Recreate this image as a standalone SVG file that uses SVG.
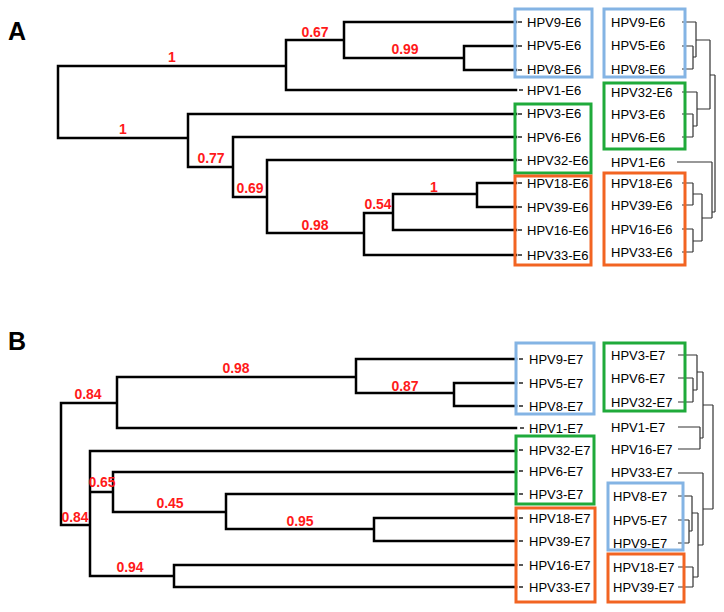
<svg xmlns="http://www.w3.org/2000/svg" width="724" height="612" viewBox="0 0 724 612">
<style>
.tree{fill:none;stroke:#000;stroke-width:2.5;stroke-linecap:square}
.tick{fill:none;stroke:#222;stroke-width:1.5}
.thin{fill:none;stroke:#333;stroke-width:1.2}
.lbl{font-family:"Liberation Sans",Arial,sans-serif;font-size:13px;fill:#000}
.bs{font-family:"Liberation Sans",Arial,sans-serif;font-size:14px;font-weight:bold;fill:#ff1a1a;text-anchor:middle}
.panel{font-family:"Liberation Sans",Arial,sans-serif;font-size:25px;font-weight:bold;fill:#000}
.blue{fill:none;stroke:#84b4e4;stroke-width:3}
.green{fill:none;stroke:#1faa3a;stroke-width:3}
.orange{fill:none;stroke:#f26422;stroke-width:3}
</style>
<rect width="724" height="612" fill="#fff"/>
<text class="panel" x="8" y="40">A</text>
<text class="panel" x="8" y="350">B</text>

<g id="connectors">
<path class="tree" d="M58,66 V138 M58,66 H286 M286,40 V90 M286,40 H344 M344,22 V58 M344,22 H516 M344,58 H464 M464,46 V70 M464,46 H516 M464,70 H516 M286,90 H516
M58,138 H188 M188,114 V167 M188,114 H516 M188,167 H233 M233,137 V197 M233,137 H516 M233,197 H267 M267,160 V233 M267,160 H516 M267,233 H364 M364,213 V255 M364,213 H393 M393,194 V230 M393,194 H477 M477,183 V207 M477,183 H516 M477,207 H516 M393,230 H516 M364,255 H516"/>
<path class="tick" d="M518,22 H522 M518,46 H522 M518,70 H522 M519,90 H523 M518,114 H522 M518,137 H522 M518,160 H522 M518,183 H522 M518,207 H522 M518,230 H522 M518,255 H522"/>
<path class="thin" d="M682,22 H696 M682,46 H693 M682,69 H693 M693,46 V69 M693,57 H696 M696,22 V57 M696,40 H710
M682,92 H697 M682,114 H693 M682,137 H693 M693,114 V137 M693,126 H697 M697,92 V126 M697,109 H710 M710,40 V109 M710,75 H715
M677,162 H712 M682,183 H693 M682,205 H693 M693,183 V205 M693,194 H702 M682,229 H693 M682,252 H693 M693,229 V252 M693,241 H702 M702,194 V241 M702,218 H712 M712,162 V218 M712,212 H715 M715,75 V212"/>

<path class="tree" d="M61,403 V525 M61,403 H117 M117,377 V428 M117,377 H356 M356,359 V393 M356,359 H516 M356,393 H454 M454,383 V406 M454,383 H516 M454,406 H516 M117,428 H516
M61,525 H90 M90,451 V576 M90,451 H516 M90,492 H113 M113,472 V512 M113,472 H516 M113,512 H226 M226,494 V529 M226,494 H516 M226,529 H374 M374,518 V541 M374,518 H516 M374,541 H516 M90,576 H174 M174,565 V587 M174,565 H516 M174,587 H516"/>
<path class="tick" d="M519,359 H523 M519,383 H523 M519,406 H523 M520,428 H524 M519,450 H523 M519,471 H523 M519,494 H523 M519,518 H523 M519,541 H523 M519,565 H523 M519,587 H523"/>
<path class="thin" d="M678,355 H697 M678,378 H693 M678,402 H693 M693,378 V402 M693,390 H697 M697,355 V390 M697,372 H703
M678,427 H700 M678,449 H700 M700,427 V449 M700,438 H703 M703,372 V438 M703,405 H713
M678,473 H703 M678,496 H692 M678,520 H689 M678,543 H689 M689,520 V543 M689,531 H692 M692,496 V531 M692,513 H698
M678,567 H693 M678,587 H693 M693,567 V587 M693,577 H698 M698,513 V577 M698,545 H703 M703,473 V545 M703,509 H713 M713,405 V509"/>
</g>

<g id="support-A">
<text class="bs" x="172" y="62">1</text>
<text class="bs" x="315" y="37">0.67</text>
<text class="bs" x="405" y="54">0.99</text>
<text class="bs" x="123" y="134">1</text>
<text class="bs" x="211" y="163">0.77</text>
<text class="bs" x="250" y="193">0.69</text>
<text class="bs" x="315" y="230">0.98</text>
<text class="bs" x="378" y="209">0.54</text>
<text class="bs" x="434" y="192">1</text>
</g>
<g id="support-B">
<text class="bs" x="88" y="399">0.84</text>
<text class="bs" x="236" y="373">0.98</text>
<text class="bs" x="405" y="391">0.87</text>
<text class="bs" x="102" y="487">0.65</text>
<text class="bs" x="75" y="522">0.84</text>
<text class="bs" x="170" y="508">0.45</text>
<text class="bs" x="300" y="526">0.95</text>
<text class="bs" x="130" y="572">0.94</text>
</g>

<g id="boxes">
<rect class="blue" x="515" y="9" width="77" height="68"/>
<rect class="green" x="515" y="104" width="76" height="69"/>
<rect class="orange" x="515" y="176" width="76" height="89"/>
<rect class="blue" x="604" y="9" width="81" height="68"/>
<rect class="green" x="604" y="83" width="81" height="66"/>
<rect class="orange" x="604" y="173" width="81" height="92"/>
<rect class="blue" x="516" y="343" width="78" height="71"/>
<rect class="green" x="516" y="436" width="78" height="68"/>
<rect class="orange" x="516" y="508" width="79" height="94"/>
<rect class="green" x="604" y="343" width="81" height="68"/>
<rect class="blue" x="608" y="483" width="75" height="67"/>
<rect class="orange" x="608" y="554" width="76" height="48"/>
</g>

<g id="leaves-A-mid">
<text class="lbl" x="527" y="27">HPV9-E6</text>
<text class="lbl" x="527" y="50">HPV5-E6</text>
<text class="lbl" x="527" y="74">HPV8-E6</text>
<text class="lbl" x="527" y="95">HPV1-E6</text>
<text class="lbl" x="527" y="118">HPV3-E6</text>
<text class="lbl" x="527" y="142">HPV6-E6</text>
<text class="lbl" x="527" y="165">HPV32-E6</text>
<text class="lbl" x="527" y="188">HPV18-E6</text>
<text class="lbl" x="527" y="212">HPV39-E6</text>
<text class="lbl" x="527" y="235">HPV16-E6</text>
<text class="lbl" x="527" y="260">HPV33-E6</text>
</g>
<g id="leaves-A-right">
<text class="lbl" x="611" y="27">HPV9-E6</text>
<text class="lbl" x="611" y="50">HPV5-E6</text>
<text class="lbl" x="611" y="74">HPV8-E6</text>
<text class="lbl" x="611" y="97">HPV32-E6</text>
<text class="lbl" x="611" y="119">HPV3-E6</text>
<text class="lbl" x="611" y="142">HPV6-E6</text>
<text class="lbl" x="611" y="167">HPV1-E6</text>
<text class="lbl" x="611" y="188">HPV18-E6</text>
<text class="lbl" x="611" y="210">HPV39-E6</text>
<text class="lbl" x="611" y="234">HPV16-E6</text>
<text class="lbl" x="611" y="257">HPV33-E6</text>
</g>
<g id="leaves-B-mid">
<text class="lbl" x="529" y="364">HPV9-E7</text>
<text class="lbl" x="529" y="388">HPV5-E7</text>
<text class="lbl" x="529" y="411">HPV8-E7</text>
<text class="lbl" x="529" y="433">HPV1-E7</text>
<text class="lbl" x="529" y="455">HPV32-E7</text>
<text class="lbl" x="529" y="476">HPV6-E7</text>
<text class="lbl" x="529" y="499">HPV3-E7</text>
<text class="lbl" x="529" y="523">HPV18-E7</text>
<text class="lbl" x="529" y="546">HPV39-E7</text>
<text class="lbl" x="529" y="570">HPV16-E7</text>
<text class="lbl" x="529" y="592">HPV33-E7</text>
</g>
<g id="leaves-B-right">
<text class="lbl" x="611" y="360">HPV3-E7</text>
<text class="lbl" x="611" y="383">HPV6-E7</text>
<text class="lbl" x="611" y="407">HPV32-E7</text>
<text class="lbl" x="611" y="432">HPV1-E7</text>
<text class="lbl" x="611" y="454">HPV16-E7</text>
<text class="lbl" x="611" y="477">HPV33-E7</text>
<text class="lbl" x="613" y="501">HPV8-E7</text>
<text class="lbl" x="613" y="525">HPV5-E7</text>
<text class="lbl" x="613" y="548">HPV9-E7</text>
<text class="lbl" x="613" y="572">HPV18-E7</text>
<text class="lbl" x="613" y="592">HPV39-E7</text>
</g>
</svg>
